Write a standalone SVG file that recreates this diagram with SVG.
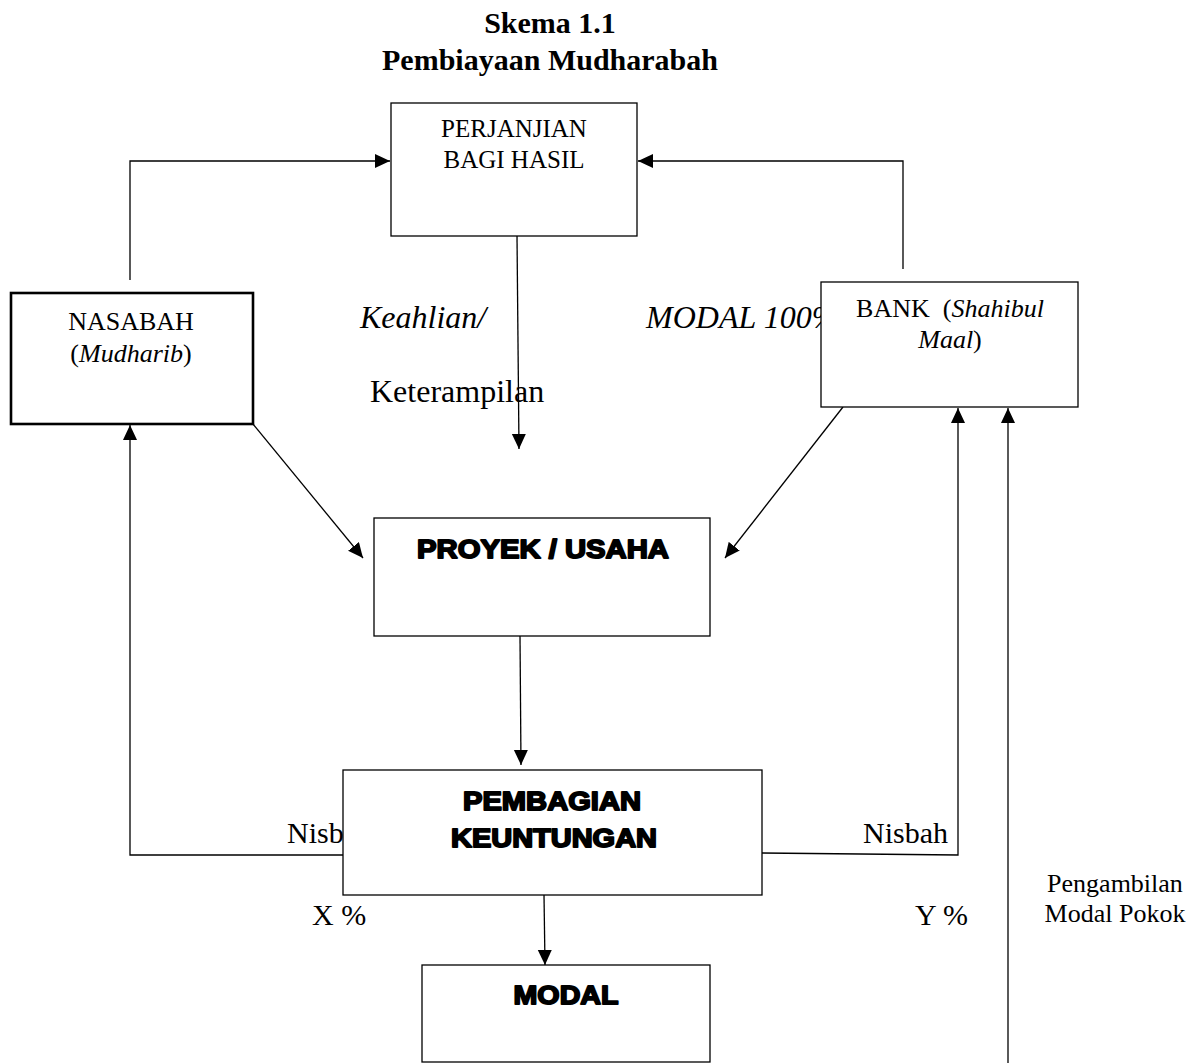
<svg xmlns="http://www.w3.org/2000/svg" width="1202" height="1063" viewBox="0 0 1202 1063">
<style>
.bx{fill:#fff;stroke:#000;stroke-width:1.3}
.bx2{fill:#fff;stroke:#000;stroke-width:2.6}
.cn{fill:none;stroke:#000;stroke-width:1.3}
.t{font-family:"Liberation Serif","Times New Roman",serif;fill:#000}
.it{font-style:italic}
.h{font-family:"Liberation Sans",Arial,sans-serif;font-weight:bold;fill:#000;stroke:#000;stroke-width:1.8;stroke-linejoin:round;text-anchor:middle}
</style>
<defs>
<marker id="ah" markerUnits="userSpaceOnUse" markerWidth="16" markerHeight="15" refX="15" refY="7" orient="auto">
<path d="M0,0 L15,7 L0,14 z" fill="#000"/>
</marker>
</defs>
<rect width="1202" height="1063" fill="#fff"/>
<g id="title" class="t" font-weight="bold" font-size="30" text-anchor="middle">
<text x="550" y="33">Skema 1.1</text>
<text x="550" y="70">Pembiayaan Mudharabah</text>
</g>
<g id="labels" class="t">
<text x="360" y="328" font-size="32" class="it">Keahlian/</text>
<text x="370" y="402" font-size="32">Keterampilan</text>
<text x="646" y="328" font-size="32" class="it">MODAL 100%</text>
<text x="287" y="843" font-size="30">Nisbah</text>
<text x="863" y="843" font-size="30">Nisbah</text>
<text x="312" y="925" font-size="30">X %</text>
<text x="915" y="925" font-size="30">Y %</text>
<text x="1115" y="892" font-size="26" text-anchor="middle">Pengambilan</text>
<text x="1115" y="922" font-size="26" text-anchor="middle">Modal Pokok</text>
</g>
<g id="connectors" class="cn">
<polyline points="130,280 130,161 390,161" marker-end="url(#ah)"/>
<polyline points="903,269 903,161 638,161" marker-end="url(#ah)"/>
<line x1="517" y1="236" x2="519" y2="449" marker-end="url(#ah)"/>
<line x1="253" y1="424" x2="363" y2="558" marker-end="url(#ah)"/>
<line x1="843" y1="407" x2="725" y2="558" marker-end="url(#ah)"/>
<line x1="520" y1="636" x2="521" y2="765" marker-end="url(#ah)"/>
<line x1="544" y1="895" x2="545" y2="965" marker-end="url(#ah)"/>
<polyline points="343,855 130,855 130,425" marker-end="url(#ah)"/>
<polyline points="762,853 958,855 958,408" marker-end="url(#ah)"/>
<line x1="1008" y1="1063" x2="1008" y2="408" marker-end="url(#ah)"/>
</g>
<g id="perjanjian">
<rect class="bx" x="391" y="103" width="246" height="133"/>
<text class="t" x="514" y="137" font-size="25" text-anchor="middle">PERJANJIAN</text>
<text class="t" x="514" y="168" font-size="25" text-anchor="middle">BAGI HASIL</text>
</g>
<g id="nasabah">
<rect class="bx2" x="11" y="293" width="242" height="131"/>
<text class="t" x="131" y="330" font-size="26" text-anchor="middle">NASABAH</text>
<text class="t" x="131" y="362" font-size="26" text-anchor="middle">(<tspan class="it">Mudharib</tspan>)</text>
</g>
<g id="bank">
<rect class="bx" x="821" y="282" width="257" height="125"/>
<text class="t" x="950" y="317" font-size="26" text-anchor="middle" xml:space="preserve">BANK  (<tspan class="it">Shahibul</tspan></text>
<text class="t" x="950" y="348" font-size="26" text-anchor="middle"><tspan class="it">Maal</tspan>)</text>
</g>
<g id="proyek">
<rect class="bx" x="374" y="518" width="336" height="118"/>
<text class="h" x="543" y="558" font-size="26" textLength="252" lengthAdjust="spacingAndGlyphs">PROYEK / USAHA</text>
</g>
<g id="pembagian">
<rect class="bx" x="343" y="770" width="419" height="125"/>
<text class="h" x="552" y="810" font-size="26" textLength="178" lengthAdjust="spacingAndGlyphs">PEMBAGIAN</text>
<text class="h" x="554" y="847" font-size="26" textLength="206" lengthAdjust="spacingAndGlyphs">KEUNTUNGAN</text>
</g>
<g id="modal">
<rect class="bx" x="422" y="965" width="288" height="97"/>
<text class="h" x="566" y="1004" font-size="26" textLength="105" lengthAdjust="spacingAndGlyphs">MODAL</text>
</g>
</svg>
